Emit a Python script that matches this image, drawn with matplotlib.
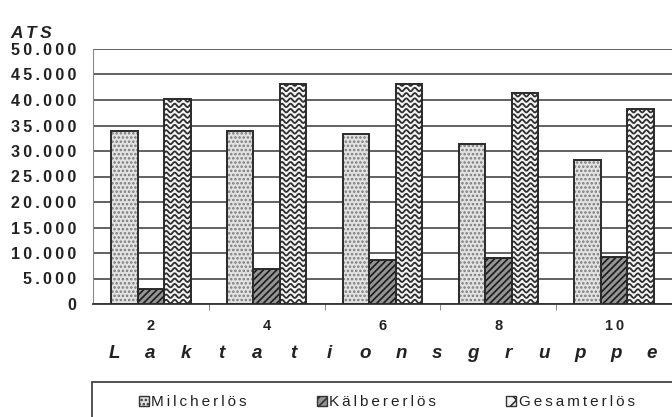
import numpy as np
import matplotlib
matplotlib.use('Agg')
import matplotlib.pyplot as plt
from matplotlib.patches import Patch, Rectangle

# Erlöse je Laktationsgruppe (ATS)
gruppen = ['2', '4', '6', '8', '10']
milcherloes = [33900, 33900, 33300, 31400, 28200]
kaelbererloes = [3000, 6900, 8600, 9000, 9300]
gesamterloes = [40200, 43100, 43200, 41300, 38200]
serien = ['Milcherlös', 'Kälbererlös', 'Gesamterlös']

plt.rcParams['font.family'] = ['Liberation Sans', 'DejaVu Sans']
plt.rcParams['hatch.linewidth'] = 1.2

SP = '\u2009'  # schmales Leerzeichen für gesperrten Text


def gesperrt(s):
    return SP.join(s)


fig = plt.figure(figsize=(6.72, 4.17), dpi=100)
ax = fig.add_axes([93 / 672, 1 - 304 / 417, 1 - 93 / 672, (304 - 49) / 417])

x = np.arange(len(gruppen))
w = 0.228

# Milcherlös: helle Punktierung
ax.bar(x - w, milcherloes, w, color='#e2e2e2', hatch='....', edgecolor='#7a7a7a', linewidth=0, zorder=3)
ax.bar(x - w, milcherloes, w, fill=False, edgecolor='#2a2a2a', linewidth=1.4, zorder=4)

# Kälbererlös: dichte Schraffur
ax.bar(x, kaelbererloes, w, color='#949494', hatch='/////', edgecolor='#1a1a1a', linewidth=0, zorder=3)
ax.bar(x, kaelbererloes, w, fill=False, edgecolor='#2a2a2a', linewidth=1.4, zorder=4)

# Gesamterlös: Wellenmuster
gesamt = ax.bar(x + w, gesamterloes, w, color='#f4f4f4', linewidth=0, zorder=3)
ax.bar(x + w, gesamterloes, w, fill=False, edgecolor='#2a2a2a', linewidth=1.4, zorder=5)

ax.set_xlim(-0.5, len(gruppen) - 0.5)
ax.set_ylim(0, 50000)

bbox = ax.get_position()
px_x = len(gruppen) / (bbox.width * 672)   # Dateneinheiten pro Pixel in x
px_y = 50000 / (bbox.height * 417)         # Dateneinheiten pro Pixel in y
for rect in gesamt:
    left, hoehe = rect.get_x(), rect.get_height()
    xs = np.linspace(left, left + w, 80)
    phase = 2 * np.pi * (xs - left) / (8.5 * px_x)
    for y0 in np.arange(px_y * 2.5, hoehe, 5.3 * px_y):
        line, = ax.plot(xs, y0 + 1.7 * px_y * np.sin(phase), color='#2e2e2e', lw=1.3, zorder=4)
        line.set_clip_path(rect)

werte = np.arange(0, 50001, 5000)
ax.set_yticks(werte)
ax.set_yticklabels([gesperrt(f'{v:,}'.replace(',', '.')) for v in werte],
                   fontsize=11.5, fontweight='bold', color='#222222')
ax.yaxis.grid(True, color='#555555', linewidth=1.3, zorder=1)
ax.tick_params(axis='y', length=0, pad=12)

ax.set_xticks(x)
ax.set_xticklabels([gesperrt(g) for g in gruppen], fontsize=10.5, fontweight='bold', color='#222222')
ax.set_xticks(np.arange(0.5, len(gruppen) - 0.5, 1), minor=True)
ax.tick_params(axis='x', which='major', length=0, pad=11)
ax.tick_params(axis='x', which='minor', length=4, color='#777777', direction='out')

for s in ['top', 'right']:
    ax.spines[s].set_visible(False)
ax.spines['left'].set_color('#888888')
ax.spines['bottom'].set_color('#333333')
ax.spines['bottom'].set_linewidth(1.3)

fig.text(10 / 672, 1 - 33 / 417, gesperrt('ATS'), fontsize=12.5, fontweight='bold', style='italic',
         color='#222222', va='center')

# Achsenbeschriftung, buchstabenweise gesperrt
titel = 'Laktationsgruppe'
for xi, ch in zip(np.linspace(114 / 672, 652 / 672, len(titel)), titel):
    fig.text(xi, 1 - 354 / 417, ch, fontsize=13.5, fontweight='bold', style='italic',
             color='#222222', ha='center', va='center')

# Rahmen der Legende, rechts und unten angeschnitten
fig.add_artist(Rectangle((92 / 672, -0.05), 1.0, 1 - 382 / 417 + 0.05, transform=fig.transFigure,
                         fill=False, edgecolor='#444444', linewidth=1.3))

handles = [
    Patch(facecolor='#e2e2e2', edgecolor='#333333', hatch='....'),
    Patch(facecolor='#949494', edgecolor='#333333', hatch='////'),
    Patch(facecolor='#f4f4f4', edgecolor='#333333', hatch='xx'),
]
leg = fig.legend(handles, [gesperrt(s) for s in serien], loc='center left', ncol=3,
                 bbox_to_anchor=(139 / 672, 1 - 402 / 417), borderaxespad=0,
                 frameon=False, fontsize=11, handlelength=0.65, handleheight=0.65,
                 handletextpad=0.15, borderpad=0, columnspacing=4.6)
for t in leg.get_texts():
    t.set_color('#222222')

fig.savefig('out.png', dpi=100)
